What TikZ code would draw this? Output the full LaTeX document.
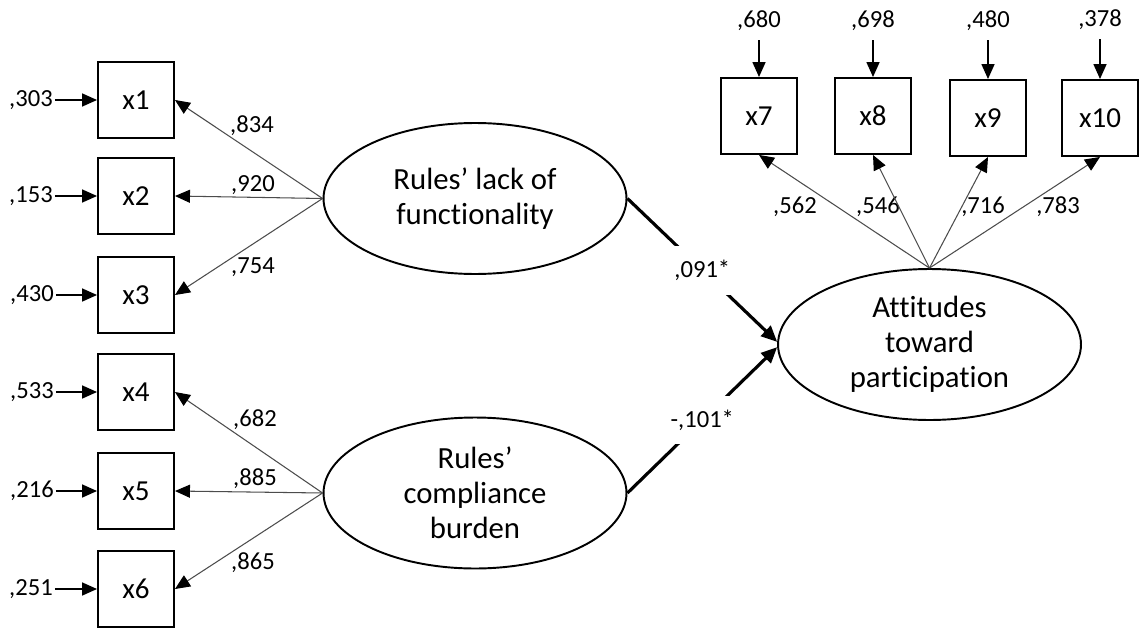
\documentclass[tikz,border=0pt]{standalone}
\usepackage{fontspec}
\setmainfont{Carlito}[Ligatures=NoCommon]
\usetikzlibrary{shapes.geometric,arrows.meta}

\tikzset{
    ind/.style={draw, line width=1.1pt, minimum size=1.52cm, inner sep=0pt, font=\fontsize{16.5}{19}\selectfont},
    lat/.style={draw, ellipse, line width=1.1pt, minimum width=6.06cm, minimum height=3.02cm, inner sep=0pt, align=center, font=\fontsize{17.5}{19.8}\selectfont},
    lbl/.style={inner sep=1pt, font=\fontsize{14}{16}\selectfont},
    gap/.style={lbl, fill=white, inner xsep=1pt, inner ysep=8pt},
    err/.style={-{Triangle[length=0.3cm, width=0.26cm]}, line width=0.9pt},
    load/.style={-{Triangle[length=0.3cm, width=0.26cm, color=black]}, line width=0.6pt, draw=black!70},
    reg/.style={-{Triangle[length=0.32cm, width=0.28cm]}, line width=1.8pt},
}

\begin{document}
\begin{tikzpicture}[x=0.02cm, y=-0.02cm]
        \useasboundingbox (0,0) rectangle (1141,628);
        \node[lat](f1) at (475, 198.5) {Rules’ lack of\\functionality};
        \node[lat](f2) at (475, 493) {Rules’\\compliance\\burden};
        \node[lat](att) at (929.5, 344.5) {Attitudes\\toward\\participation};
        \node[ind](x1) at (136, 100) {x1};
        \node[ind](x2) at (136, 196) {x2};
        \node[ind](x3) at (136, 295) {x3};
        \node[ind](x4) at (136, 392) {x4};
        \node[ind](x5) at (136, 491) {x5};
        \node[ind](x6) at (136, 589) {x6};
        \node[ind](x7) at (759, 116) {x7};
        \node[ind](x8) at (873, 116) {x8};
        \node[ind](x9) at (988, 118) {x9};
        \node[ind](x10) at (1100, 118) {x10};
        \node[lbl](e1) at (31, 100) {,303};
        \node[lbl](e2) at (31, 196) {,153};
        \node[lbl](e3) at (32, 295) {,430};
        \node[lbl](e4) at (32, 392) {,533};
        \node[lbl](e5) at (32, 491) {,216};
        \node[lbl](e6) at (31, 589) {,251};
        \node[lbl](e7) at (759, 21) {,680};
        \node[lbl](e8) at (873, 21) {,698};
        \node[lbl](e9) at (988, 21) {,480};
        \node[lbl](e10) at (1100, 20) {,378};
        \node[lbl](l1) at (252, 126) {,834};
        \node[lbl](l2) at (253, 185) {,920};
        \node[lbl](l3) at (253, 267) {,754};
        \node[lbl](l4) at (255, 420) {,682};
        \node[lbl](l5) at (255, 479) {,885};
        \node[lbl](l6) at (253, 563) {,865};
        \node[lbl](l7) at (795, 207) {,562};
        \node[lbl](l8) at (878, 207) {,546};
        \node[lbl](l9) at (983, 207) {,716};
        \node[lbl](l10) at (1058, 207) {,783};
        \foreach \i in {1,...,6}
            \draw[err] (e\i.east) -- (x\i.west);
        \foreach \i in {7,...,10}
            \draw[err, shorten <=4pt] (e\i.south) -- (x\i.north);
        \foreach \i in {1,2,3}
            \draw[load] (f1.west) -- (x\i.east);
        \foreach \i in {4,5,6}
            \draw[load] (f2.west) -- (x\i.east);
        \foreach \i in {7,...,10}
            \draw[load] (att.north) -- (x\i.south);
        \draw[reg] (f1.east) -- node[gap](s1) {,091*} (att.179);
        \draw[reg] (f2.east) -- node[gap](s2) {-,101*} (att.181);
    \end{tikzpicture}
\end{document}
